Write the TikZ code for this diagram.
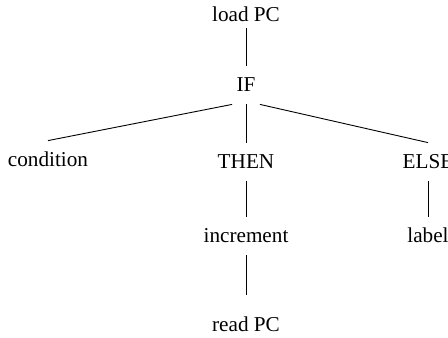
\documentclass[tikz,border=0pt]{standalone}
\usepackage{fontspec}
\setmainfont{Liberation Serif}
\usepackage{tikz}
\tikzset{lbl/.style={inner sep=0pt, anchor=base, text height=12.5pt, text depth=6.5pt},
 branch/.style={draw=black, line width=0.45pt},
 }

\begin{document}
\begin{tikzpicture}[x=0.5pt, y=-0.5pt, font=\fontsize{10.6}{12}\selectfont]
        \useasboundingbox (0, 0) rectangle (448, 337);
        \node [lbl, text depth=3.5pt] (load) at (246, 21) {load PC};
        \node [lbl, minimum width=13.5pt] (if) at (246, 91) {IF};
        \node [lbl] (cond) at (48, 166) {condition};
        \node [lbl] (then) at (246, 168) {THEN};
        \node [lbl] (else) at (428, 168) {ELSE};
        \node [lbl] (incr) at (246, 242) {increment};
        \node [lbl] (label) at (428, 242) {label};
        \node [lbl, text height=18pt] (read) at (246, 331) {read PC};
        \draw [branch] (load.south) -- (if.north);
        \draw [branch] (if.south west) -- (cond.north);
        \draw [branch] (if.south) -- (then.north);
        \draw [branch] (if.south east) -- (else.north);
        \draw [branch] (then.south) -- (incr.north);
        \draw [branch] (else.south) -- (label.north);
        \draw [branch] (incr.south) -- (read.north);
    \end{tikzpicture}
\end{document}
